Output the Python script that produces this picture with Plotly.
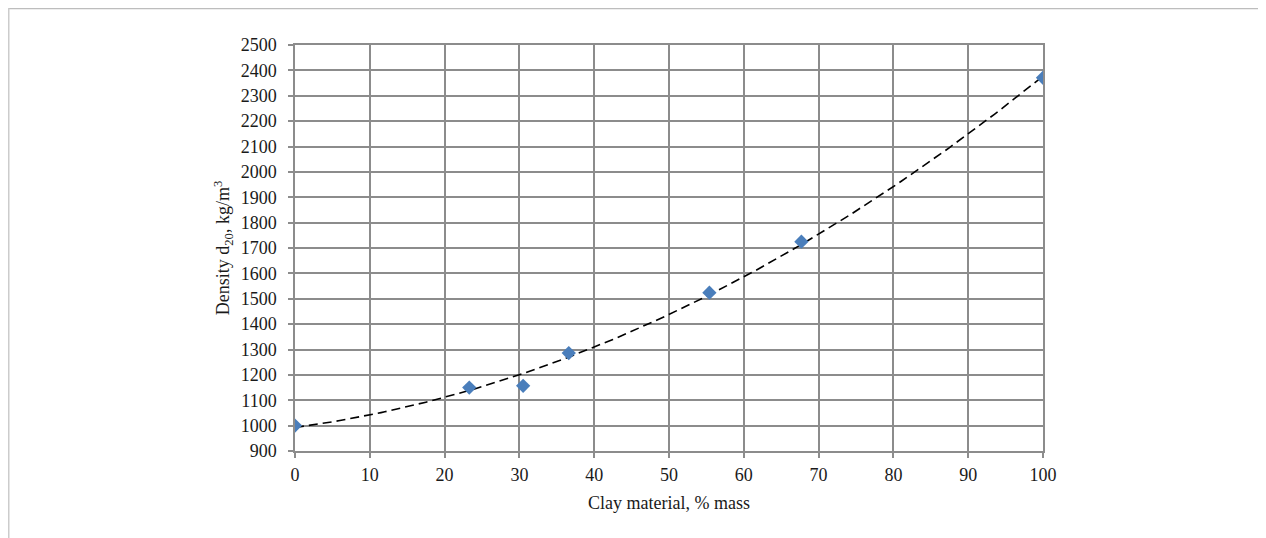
import numpy as np
import plotly.graph_objects as go

# Data
clay_pct = [0, 23.3, 30.5, 36.6, 55.4, 67.7, 100]
density = [1000, 1150, 1157, 1286, 1524, 1725, 2371]

x_ticks = list(range(0, 101, 10))
y_ticks = list(range(900, 2501, 100))

# 2nd-order polynomial trend line (as in the spreadsheet trendline)
coef = np.polyfit(clay_pct, density, 2)
xt = np.linspace(0, 100, 201)
yt = np.polyval(coef, xt)

W, H = 1266, 538
OFF = 8  # page body offset
ML, MT = 295 - OFF, 45 - OFF
MR = W - (1043 - OFF)
MB = H - (451 - OFF)
pw, ph = W - ML - MR, H - MT - MB

font = dict(family="Liberation Serif, Times New Roman, serif", size=18, color="#1a1a1a")

fig = go.Figure()
fig.add_trace(go.Scatter(x=xt, y=yt, mode="lines",
                         line=dict(color="black", width=1.6, dash="9px,5px"),
                         hoverinfo="skip", showlegend=False))
fig.add_trace(go.Scatter(x=clay_pct, y=density, mode="markers",
                         marker=dict(symbol="diamond", size=11, color="#4a7ebb",
                                     line=dict(width=0)),
                         showlegend=False))

axis_common = dict(showgrid=True, gridcolor="#8c8c8c", gridwidth=1.5,
                   showline=True, linecolor="#8c8c8c", linewidth=1.5,
                   ticks="outside", ticklen=5, tickcolor="#8c8c8c", tickwidth=1.5,
                   zeroline=False, tickfont=font, mirror=True)

fig.update_xaxes(range=[0, 100], tickvals=x_ticks, ticklabelstandoff=2,
                 title=dict(text="Clay material, % mass", font=font, standoff=12),
                 **axis_common)
fig.update_yaxes(range=[900, 2500], tickvals=y_ticks, ticklabelstandoff=8,
                 title=dict(text="Density d<sub>20</sub>, kg/m<sup>3</sup>", font=font, standoff=6),
                 **axis_common)

# Outer frame lines (top and left), as in the reference image
def px_to_paper_x(px):
    return (px - ML) / pw

def px_to_paper_y(py):
    return 1 - (py - MT) / ph

fig.add_shape(type="line", xref="paper", yref="paper",
              x0=px_to_paper_x(0), x1=px_to_paper_x(W), y0=px_to_paper_y(0.5), y1=px_to_paper_y(0.5),
              line=dict(color="#bdbdbd", width=1.5))
fig.add_shape(type="line", xref="paper", yref="paper",
              x0=px_to_paper_x(0), x1=px_to_paper_x(0), y0=px_to_paper_y(0), y1=px_to_paper_y(H),
              line=dict(color="#cccccc", width=3))

fig.update_layout(width=W, height=H, margin=dict(l=ML, r=MR, t=MT, b=MB, autoexpand=False),
                  plot_bgcolor="white", paper_bgcolor="white", font=font, showlegend=False)

fig.write_html("out.html")
